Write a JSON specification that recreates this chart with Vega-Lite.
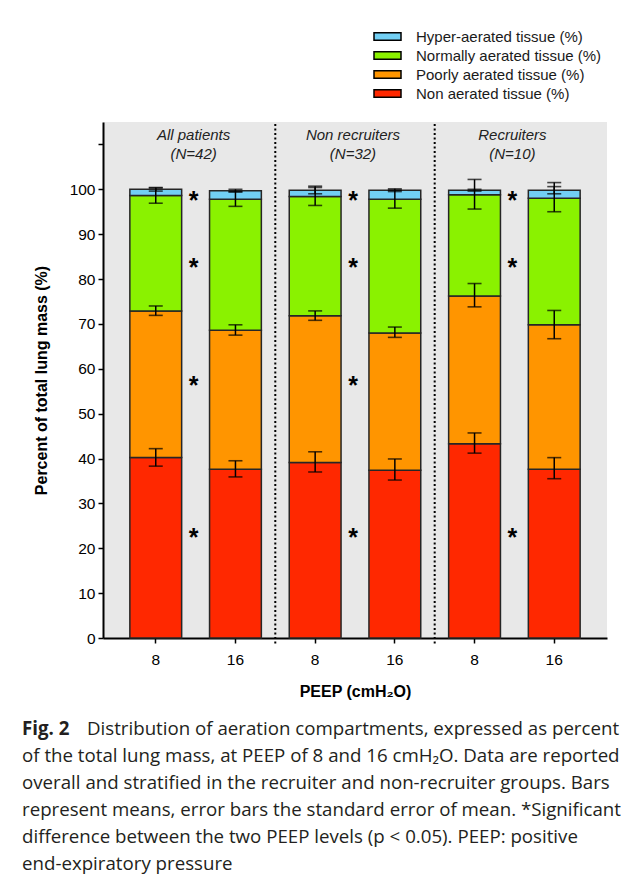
{
  "$schema": "https://vega.github.io/schema/vega-lite/v6.json",
  "description": "Distribution of aeration compartments at PEEP 8 and 16 cmH2O",
  "padding": {"left": 22, "top": 29, "right": 0, "bottom": 0},
  "bounds": "flush",
  "spacing": 77,
  "config": {
    "view": {"stroke": null},
    "font": "Liberation Sans"
  },
  "datasets": {
    "bars": [
      {"group": "All patients", "peep": "8", "tissue": "Non aerated tissue (%)", "value": 40.2},
      {"group": "All patients", "peep": "8", "tissue": "Poorly aerated tissue (%)", "value": 32.7},
      {"group": "All patients", "peep": "8", "tissue": "Normally aerated tissue (%)", "value": 25.7},
      {"group": "All patients", "peep": "8", "tissue": "Hyper-aerated tissue (%)", "value": 1.4},
      {"group": "All patients", "peep": "16", "tissue": "Non aerated tissue (%)", "value": 37.6},
      {"group": "All patients", "peep": "16", "tissue": "Poorly aerated tissue (%)", "value": 31.0},
      {"group": "All patients", "peep": "16", "tissue": "Normally aerated tissue (%)", "value": 29.2},
      {"group": "All patients", "peep": "16", "tissue": "Hyper-aerated tissue (%)", "value": 1.9},
      {"group": "Non recruiters", "peep": "8", "tissue": "Non aerated tissue (%)", "value": 39.1},
      {"group": "Non recruiters", "peep": "8", "tissue": "Poorly aerated tissue (%)", "value": 32.7},
      {"group": "Non recruiters", "peep": "8", "tissue": "Normally aerated tissue (%)", "value": 26.6},
      {"group": "Non recruiters", "peep": "8", "tissue": "Hyper-aerated tissue (%)", "value": 1.4},
      {"group": "Non recruiters", "peep": "16", "tissue": "Non aerated tissue (%)", "value": 37.4},
      {"group": "Non recruiters", "peep": "16", "tissue": "Poorly aerated tissue (%)", "value": 30.6},
      {"group": "Non recruiters", "peep": "16", "tissue": "Normally aerated tissue (%)", "value": 29.8},
      {"group": "Non recruiters", "peep": "16", "tissue": "Hyper-aerated tissue (%)", "value": 2.0},
      {"group": "Recruiters", "peep": "8", "tissue": "Non aerated tissue (%)", "value": 43.3},
      {"group": "Recruiters", "peep": "8", "tissue": "Poorly aerated tissue (%)", "value": 32.9},
      {"group": "Recruiters", "peep": "8", "tissue": "Normally aerated tissue (%)", "value": 22.6},
      {"group": "Recruiters", "peep": "8", "tissue": "Hyper-aerated tissue (%)", "value": 1.0},
      {"group": "Recruiters", "peep": "16", "tissue": "Non aerated tissue (%)", "value": 37.6},
      {"group": "Recruiters", "peep": "16", "tissue": "Poorly aerated tissue (%)", "value": 32.2},
      {"group": "Recruiters", "peep": "16", "tissue": "Normally aerated tissue (%)", "value": 28.2},
      {"group": "Recruiters", "peep": "16", "tissue": "Hyper-aerated tissue (%)", "value": 1.8}
    ],
    "errors": [
      {"group": "All patients", "peep": "8", "tissue": "Non", "lo": 38.3, "hi": 42.2},
      {"group": "All patients", "peep": "8", "tissue": "Poorly", "lo": 71.9, "hi": 74.0},
      {"group": "All patients", "peep": "8", "tissue": "Normally", "lo": 96.9, "hi": 100.3},
      {"group": "All patients", "peep": "8", "tissue": "Hyper", "lo": 99.6, "hi": 100.4},
      {"group": "All patients", "peep": "16", "tissue": "Non", "lo": 35.9, "hi": 39.5},
      {"group": "All patients", "peep": "16", "tissue": "Poorly", "lo": 67.5, "hi": 69.8},
      {"group": "All patients", "peep": "16", "tissue": "Normally", "lo": 96.2, "hi": 99.5},
      {"group": "All patients", "peep": "16", "tissue": "Hyper", "lo": 99.4, "hi": 100.0},
      {"group": "Non recruiters", "peep": "8", "tissue": "Non", "lo": 37.0, "hi": 41.5},
      {"group": "Non recruiters", "peep": "8", "tissue": "Poorly", "lo": 70.8, "hi": 72.9},
      {"group": "Non recruiters", "peep": "8", "tissue": "Normally", "lo": 96.4, "hi": 100.4},
      {"group": "Non recruiters", "peep": "8", "tissue": "Hyper", "lo": 99.0, "hi": 100.7},
      {"group": "Non recruiters", "peep": "16", "tissue": "Non", "lo": 35.2, "hi": 39.9},
      {"group": "Non recruiters", "peep": "16", "tissue": "Poorly", "lo": 67.0, "hi": 69.3},
      {"group": "Non recruiters", "peep": "16", "tissue": "Normally", "lo": 95.8, "hi": 99.8},
      {"group": "Non recruiters", "peep": "16", "tissue": "Hyper", "lo": 99.5, "hi": 100.1},
      {"group": "Recruiters", "peep": "8", "tissue": "Non", "lo": 41.2, "hi": 45.7},
      {"group": "Recruiters", "peep": "8", "tissue": "Poorly", "lo": 73.8, "hi": 79.0},
      {"group": "Recruiters", "peep": "8", "tissue": "Normally", "lo": 95.6, "hi": 102.2},
      {"group": "Recruiters", "peep": "8", "tissue": "Hyper", "lo": 99.6, "hi": 100.0},
      {"group": "Recruiters", "peep": "16", "tissue": "Non", "lo": 35.5, "hi": 40.2},
      {"group": "Recruiters", "peep": "16", "tissue": "Poorly", "lo": 66.7, "hi": 73.0},
      {"group": "Recruiters", "peep": "16", "tissue": "Normally", "lo": 95.0, "hi": 101.5},
      {"group": "Recruiters", "peep": "16", "tissue": "Hyper", "lo": 99.0, "hi": 100.6}
    ],
    "stars": [
      {"group": "All patients", "tissue": "Hyper", "y": 98.6},
      {"group": "All patients", "tissue": "Normally", "y": 83.5},
      {"group": "All patients", "tissue": "Poorly", "y": 57.3},
      {"group": "All patients", "tissue": "Non", "y": 23.4},
      {"group": "Non recruiters", "tissue": "Hyper", "y": 98.6},
      {"group": "Non recruiters", "tissue": "Normally", "y": 83.5},
      {"group": "Non recruiters", "tissue": "Poorly", "y": 57.3},
      {"group": "Non recruiters", "tissue": "Non", "y": 23.4},
      {"group": "Recruiters", "tissue": "Hyper", "y": 98.6},
      {"group": "Recruiters", "tissue": "Normally", "y": 83.5},
      {"group": "Recruiters", "tissue": "Non", "y": 23.4}
    ],
    "groups": [
      {"group": "All patients", "n": "(N=42)"},
      {"group": "Non recruiters", "n": "(N=32)"},
      {"group": "Recruiters", "n": "(N=10)"}
    ],
    "caption": [
      {"line": 1, "lead": "Fig. 2", "text": "Distribution of aeration compartments, expressed as percent"},
      {"line": 2, "lead": "", "text": "of the total lung mass, at PEEP of 8 and 16 cmH₂O. Data are reported"},
      {"line": 3, "lead": "", "text": "overall and stratified in the recruiter and non-recruiter groups. Bars"},
      {"line": 4, "lead": "", "text": "represent means, error bars the standard error of mean. *Significant"},
      {"line": 5, "lead": "", "text": "difference between the two PEEP levels (p < 0.05). PEEP: positive"},
      {"line": 6, "lead": "", "text": "end-expiratory pressure"}
    ]
  },
  "vconcat": [
    {
      "width": 504,
      "height": 516,
      "view": {"fill": "#e8e8e8", "stroke": null},
      "encoding": {
        "x": {
          "field": "bar",
          "type": "nominal",
          "scale": {
            "domain": ["All patients|8", "All patients|16", "Non recruiters|8", "Non recruiters|16", "Recruiters|8", "Recruiters|16"],
            "paddingInner": 0.35,
            "paddingOuter": 0.337
          },
          "axis": {
            "title": "PEEP (cmH₂O)",
            "labelExpr": "split(datum.label, '|')[1]",
            "labelAngle": 0,
            "labelFontSize": 15.5,
            "labelColor": "#000",
            "labelPadding": 9,
            "tickSize": 5,
            "tickWidth": 1.5,
            "tickColor": "#000",
            "domainColor": "#000",
            "domainWidth": 2,
            "titleFontSize": 16,
            "titleFontWeight": "bold",
            "titleColor": "#000",
            "titlePadding": 16
          }
        }
      },
      "layer": [
        {
          "data": {"name": "bars"},
          "transform": [
            {"calculate": "datum.group + '|' + datum.peep", "as": "bar"},
            {"calculate": "indexof(['Non aerated tissue (%)', 'Poorly aerated tissue (%)', 'Normally aerated tissue (%)', 'Hyper-aerated tissue (%)'], datum.tissue)", "as": "ord"}
          ],
          "mark": {"type": "bar", "stroke": "#262626", "strokeWidth": 1.5},
          "encoding": {
            "y": {
              "field": "value",
              "type": "quantitative",
              "stack": "zero",
              "scale": {"domain": [0, 115], "nice": false},
              "axis": {
                "title": "Percent of total lung mass (%)",
                "values": [0, 10, 20, 30, 40, 50, 60, 70, 80, 90, 100, 110],
                "labelExpr": "datum.value > 100 ? '' : datum.label",
                "grid": false,
                "labelFontSize": 15.5,
                "labelColor": "#000",
                "labelPadding": 3,
                "tickSize": 5,
                "tickWidth": 1.5,
                "tickColor": "#000",
                "domainColor": "#000",
                "domainWidth": 2,
                "titleFontSize": 16,
                "titleFontWeight": "bold",
                "titleColor": "#000",
                "titlePadding": 20
              }
            },
            "order": {"field": "ord", "type": "quantitative"},
            "color": {
              "field": "tissue",
              "type": "nominal",
              "scale": {
                "domain": ["Hyper-aerated tissue (%)", "Normally aerated tissue (%)", "Poorly aerated tissue (%)", "Non aerated tissue (%)"],
                "range": ["#72cff4", "#8af200", "#ff9500", "#ff2800"]
              },
              "legend": {
                "title": null,
                "orient": "none",
                "legendX": 277,
                "legendY": -93,
                "padding": 0,
                "symbolType": "M-2.7,-0.75H2.7V0.75H-2.7Z",
                "symbolSize": 100,
                "symbolStrokeColor": "#000",
                "symbolStrokeWidth": 1.5,
                "symbolOpacity": 1,
                "labelFont": "Liberation Sans",
                "labelFontSize": 15,
                "labelColor": "#1a1a1a",
                "labelOffset": 21,
                "labelLimit": 300,
                "rowPadding": 3
              }
            }
          }
        },
        {
          "data": {"name": "errors"},
          "transform": [{"calculate": "datum.group + '|' + datum.peep", "as": "bar"}],
          "mark": {"type": "rule", "color": "#000", "strokeWidth": 1.5},
          "encoding": {
            "y": {"field": "lo", "type": "quantitative"},
            "y2": {"field": "hi"}
          }
        },
        {
          "data": {"name": "errors"},
          "transform": [{"calculate": "datum.group + '|' + datum.peep", "as": "bar"}],
          "mark": {"type": "tick", "color": "#000", "size": 14, "thickness": 1.6, "orient": "horizontal"},
          "encoding": {"y": {"field": "lo", "type": "quantitative"}}
        },
        {
          "data": {"name": "errors"},
          "transform": [{"calculate": "datum.group + '|' + datum.peep", "as": "bar"}],
          "mark": {"type": "tick", "color": "#000", "size": 14, "thickness": 1.6, "orient": "horizontal"},
          "encoding": {"y": {"field": "hi", "type": "quantitative"}}
        },
        {
          "data": {"name": "stars"},
          "transform": [{"calculate": "datum.group + '|8'", "as": "bar"}],
          "mark": {"type": "text", "text": "*", "fontSize": 25, "fontWeight": "bold", "color": "#000", "baseline": "middle", "dy": 5, "dx": -2},
          "encoding": {
            "x": {"field": "bar", "type": "nominal", "bandPosition": 1.269},
            "y": {"field": "y", "type": "quantitative"}
          }
        },
        {
          "data": {"name": "groups"},
          "transform": [{"calculate": "datum.group + '|8'", "as": "bar"}],
          "mark": {"type": "text", "fontSize": 15, "fontStyle": "italic", "color": "#222", "baseline": "alphabetic", "dx": -2},
          "encoding": {
            "x": {"field": "bar", "type": "nominal", "bandPosition": 1.269},
            "y": {"datum": 111.0, "type": "quantitative"},
            "text": {"field": "group"}
          }
        },
        {
          "data": {"name": "groups"},
          "transform": [{"calculate": "datum.group + '|8'", "as": "bar"}],
          "mark": {"type": "text", "fontSize": 15, "fontStyle": "italic", "color": "#222", "baseline": "alphabetic", "dx": -2},
          "encoding": {
            "x": {"field": "bar", "type": "nominal", "bandPosition": 1.269},
            "y": {"datum": 106.8, "type": "quantitative"},
            "text": {"field": "n"}
          }
        },
        {
          "data": {"name": "groups"},
          "transform": [
            {"filter": "datum.group != 'Recruiters'"},
            {"calculate": "datum.group + '|16'", "as": "bar"}
          ],
          "mark": {"type": "rule", "color": "#000", "strokeWidth": 2, "strokeDash": [2, 2.5]},
          "encoding": {
            "x": {"field": "bar", "type": "nominal", "bandPosition": 1.269},
            "y": {"datum": -1.2, "type": "quantitative"},
            "y2": {"datum": 115}
          }
        }
      ]
    },
    {
      "width": 504,
      "height": 162,
      "data": {"name": "caption"},
      "encoding": {
        "y": {"field": "line", "type": "ordinal", "axis": null, "scale": {"type": "point", "padding": 0.5}},
        "x": {"datum": -81, "type": "quantitative", "axis": null, "scale": {"domain": [0, 504], "nice": false, "zero": false}}
      },
      "layer": [
        {
          "transform": [{"filter": "datum.line > 1"}],
          "mark": {"type": "text", "align": "left", "baseline": "middle", "font": "Open Sans", "fontSize": 18.7, "color": "#231f20"},
          "encoding": {"text": {"field": "text"}}
        },
        {
          "transform": [{"filter": "datum.line == 1"}],
          "mark": {"type": "text", "align": "left", "baseline": "middle", "font": "Open Sans", "fontSize": 18.7, "color": "#231f20", "dx": 65},
          "encoding": {"text": {"field": "text"}}
        },
        {
          "transform": [{"filter": "datum.line == 1"}],
          "mark": {"type": "text", "align": "left", "baseline": "middle", "font": "Open Sans", "fontWeight": "bold", "fontSize": 18.7, "color": "#231f20"},
          "encoding": {"text": {"field": "lead"}}
        }
      ]
    }
  ]
}
